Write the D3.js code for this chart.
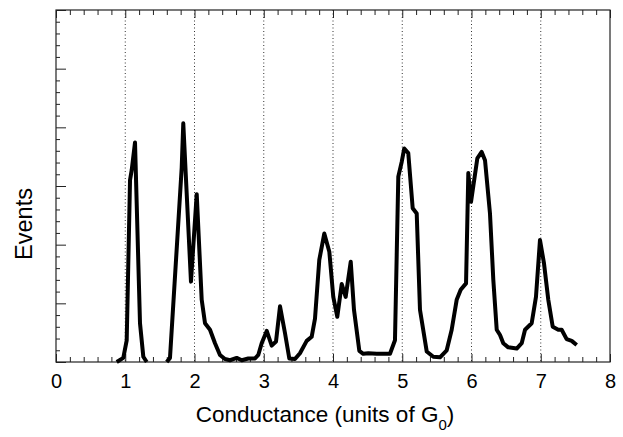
<!DOCTYPE html>
<html>
<head>
<meta charset="utf-8">
<script src="https://cdn.jsdelivr.net/npm/d3@7"></script>
<style>
  html, body { margin: 0; padding: 0; background: #fff; }
  svg { display: block; }
  text { font-family: "Liberation Sans", Arial, sans-serif; fill: #000; }
</style>
</head>
<body>
<svg id="chart" width="623" height="437"></svg>
<script>
// Conductance (units of G0) and event counts (arbitrary units); null = gap
const conductance = [
  0.877, 0.972, 1.021, 1.069, 1.093, 1.141, 1.213, 1.261, 1.310,
  null,
  1.599, 1.646, 1.815, 1.838, 1.949, 2.032, 2.104, 2.152, 2.224, 2.296,
  2.368, 2.440, 2.513, 2.609, 2.682, 2.777, 2.874, 2.921, 2.970, 3.043,
  3.115, 3.177, 3.235, 3.307, 3.369, 3.451, 3.523, 3.620, 3.692, 3.740,
  3.802, 3.874, 3.947, 4.004, 4.062, 4.126, 4.183, 4.256, 4.303, 4.380,
  4.437, 4.510, 4.631, 4.823, 4.895, 4.943, 4.992, 5.029, 5.087, 5.151,
  5.209, 5.256, 5.353, 5.448, 5.545, 5.642, 5.714, 5.786, 5.844, 5.921,
  5.954, 5.993, 6.084, 6.147, 6.195, 6.267, 6.315, 6.364, 6.412, 6.459,
  6.531, 6.653, 6.725, 6.773, 6.869, 6.931, 6.989, 7.047, 7.109, 7.173,
  7.253, 7.302, 7.374, 7.447, 7.519
];
const events = [
  0.00, 0.07, 0.37, 3.10, 3.27, 3.74, 0.66, 0.09, 0.00,
  null,
  0.00, 0.07, 3.31, 4.07, 1.37, 2.86, 1.06, 0.66, 0.55, 0.32,
  0.12, 0.05, 0.03, 0.07, 0.03, 0.06, 0.06, 0.12, 0.32, 0.53,
  0.28, 0.35, 0.95, 0.49, 0.06, 0.05, 0.15, 0.36, 0.43, 0.74,
  1.74, 2.19, 1.88, 1.11, 0.77, 1.33, 1.11, 1.71, 0.89, 0.19,
  0.14, 0.15, 0.14, 0.14, 0.37, 3.16, 3.41, 3.64, 3.56, 2.62,
  2.53, 0.89, 0.18, 0.09, 0.08, 0.20, 0.55, 1.06, 1.23, 1.34,
  3.22, 2.73, 3.47, 3.58, 3.44, 2.53, 1.40, 0.55, 0.46, 0.32,
  0.25, 0.23, 0.32, 0.55, 0.66, 1.11, 2.08, 1.68, 1.06, 0.60,
  0.55, 0.55, 0.39, 0.36, 0.29
];
const xTickLabels = ["0", "1", "2", "3", "4", "5", "6", "7", "8"];
const gridValues = [1, 2, 3, 4, 5, 6, 7];
const xLabel = "Conductance (units of G";
const xLabelSub = "0";
const yLabel = "Events";

const svg = d3.select("#chart");
const L = 56, R = 610, T = 10, B = 362;
const x = d3.scaleLinear().domain([0, 8]).range([L, R]);
const y = d3.scaleLinear().domain([0, 6]).range([B, T]);

// gridlines
svg.append("g").selectAll("line").data(gridValues).join("line")
  .attr("x1", d => x(d)).attr("x2", d => x(d))
  .attr("y1", T).attr("y2", B)
  .attr("stroke", "#333").attr("stroke-width", 1)
  .attr("stroke-dasharray", "1,2.5");

// ticks (inward)
const xMinor = d3.range(0, 8.0001, 0.2);
const yMinor = d3.range(0, 6.0001, 0.2);
const isMajor = v => Math.abs(v - Math.round(v)) < 1e-6;

const gB = svg.append("g").attr("transform", `translate(0,${B})`)
  .call(d3.axisBottom(x).tickValues(xMinor).tickSizeOuter(0).tickFormat(""));
gB.select(".domain").remove();
gB.selectAll(".tick line").attr("y2", d => isMajor(d) ? -8 : -5).attr("stroke", "#222");

const gT = svg.append("g").attr("transform", `translate(0,${T})`)
  .call(d3.axisTop(x).tickValues(xMinor).tickSizeOuter(0).tickFormat(""));
gT.select(".domain").remove();
gT.selectAll(".tick line").attr("y2", d => isMajor(d) ? 8 : 5).attr("stroke", "#222");

const gL = svg.append("g").attr("transform", `translate(${L},0)`)
  .call(d3.axisLeft(y).tickValues(yMinor).tickSizeOuter(0).tickFormat(""));
gL.select(".domain").remove();
gL.selectAll(".tick line").attr("x2", d => isMajor(d) ? 10 : 4).attr("stroke", "#222");

// tick labels
const gLab = svg.append("g").attr("transform", `translate(0,${B})`)
  .call(d3.axisBottom(x).ticks(8).tickSize(0).tickFormat((d, i) => xTickLabels[i]));
gLab.select(".domain").remove();
gLab.selectAll(".tick text")
  .attr("y", 12).attr("dy", "0.71em")
  .style("font-family", '"Liberation Sans", Arial, sans-serif')
  .style("font-size", "20px").attr("fill", "#000");

// frame
svg.append("rect").attr("x", L).attr("y", T).attr("width", R - L).attr("height", B - T)
  .attr("fill", "none").attr("stroke", "#222").attr("stroke-width", 1.2);

// data line
const pts = conductance.map((c, i) => ({c, e: events[i]}));
const line = d3.line()
  .defined(d => d.c !== null && d.e !== null)
  .x(d => x(d.c)).y(d => y(d.e));
svg.append("path").datum(pts)
  .attr("d", line)
  .attr("fill", "none").attr("stroke", "#000")
  .attr("stroke-width", 4).attr("stroke-linejoin", "round").attr("stroke-linecap", "butt");

// axis titles
const t = svg.append("text").attr("x", 325).attr("y", 422)
  .attr("text-anchor", "middle").style("font-size", "22.5px");
t.append("tspan").text(xLabel);
t.append("tspan").attr("dy", 8).style("font-size", "15px").text(xLabelSub);
t.append("tspan").attr("dy", -8).text(")");

svg.append("text").attr("transform", "translate(32,224) rotate(-90)")
  .attr("text-anchor", "middle").style("font-size", "23.5px").text(yLabel);
</script>
</body>
</html>
